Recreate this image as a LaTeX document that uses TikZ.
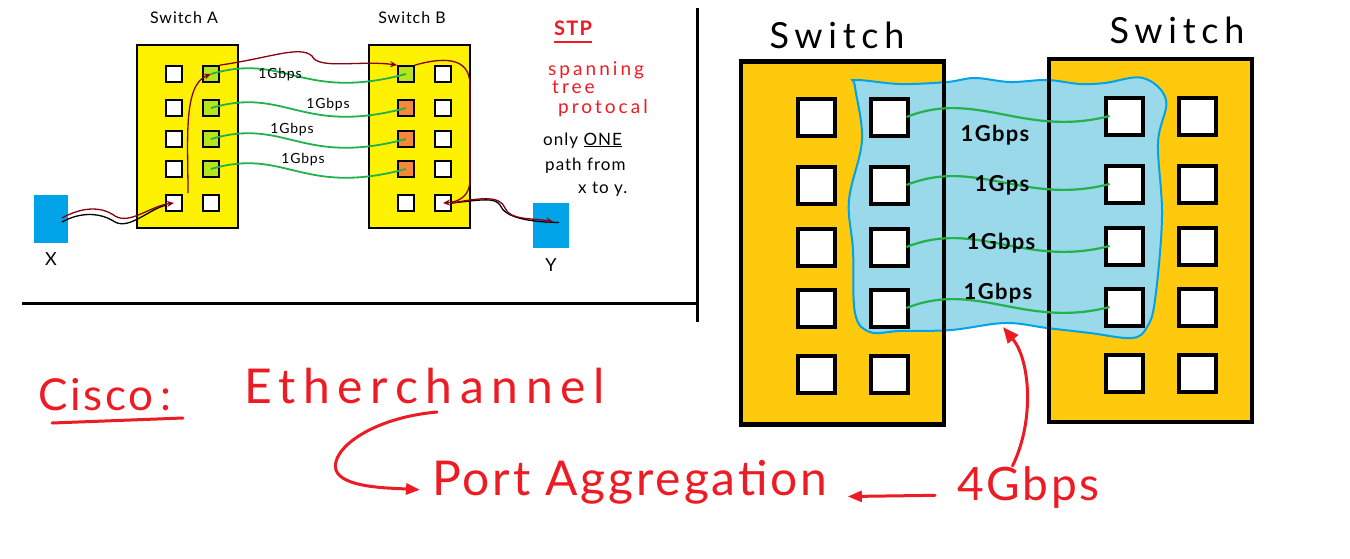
\documentclass[tikz,border=0pt]{standalone}
\usepackage{fontspec}
\setmainfont{Lato}
\newfontfamily\hand[LetterSpace=6]{Lato}
\newfontfamily\widehand[LetterSpace=16]{Lato}
\usetikzlibrary{arrows.meta,positioning}
\definecolor{swyellow}{HTML}{FFF200}
\definecolor{swgold}{HTML}{FFC90E}
\definecolor{portgreen}{HTML}{B5E61D}
\definecolor{portorange}{HTML}{F7883A}
\definecolor{hostblue}{HTML}{00A2E8}
\definecolor{cloudfill}{HTML}{99D9EA}
\definecolor{linkgreen}{HTML}{22B14C}
\definecolor{penred}{HTML}{ED1C24}
\definecolor{darkred}{HTML}{880015}
\newcommand{\fsz}[1]{\fontsize{#1}{#1}\selectfont}

\begin{document}
\begin{tikzpicture}[x=1pt,y=-1pt,
  smallsw/.style={draw,line width=2pt,fill=swyellow,minimum width=101pt,minimum height=183pt,inner sep=0pt},
  bigsw/.style={fill=swgold,minimum width=203pt,minimum height=363pt,inner sep=0pt},
  sport/.style={draw,line width=1.8pt,fill=white,minimum size=16pt,inner sep=0pt},
  bport/.style={draw,line width=4pt,fill=white,minimum size=37pt,inner sep=0pt},
  host/.style={fill=hostblue,inner sep=0pt},
  lnk/.style={linkgreen,line width=1.8pt},
  blnk/.style={linkgreen,line width=2.2pt},
  trail/.style={darkred,line width=1.3pt,-{Stealth[length=7pt,width=6pt]}},
  pen/.style={penred,line width=3pt,line cap=round},
  txt/.style={inner sep=0pt,font=\hand}]
\fill[white] (0,0) rectangle (1350,558);
\useasboundingbox (0,0) rectangle (1350,558);

\node[smallsw] (swA) at (187,136.5) {};
\node[smallsw] (swB) at (419.5,136.5) {};
\node[txt,font=\hand\fsz{16}] (labA) at (184,18) {Switch A};
\node[txt,font=\hand\fsz{16}] (labB) at (412,18) {Switch B};
\foreach \r/\y/\ca/\cb in {1/74/portgreen/portgreen,2/108/portgreen/portorange,3/139/portgreen/portorange,4/169/portgreen/portorange,5/203/white/white}{
  \node[sport] (a1\r) at (174,\y) {};
  \node[sport,fill=\ca] (a2\r) at (211,\y) {};
  \node[sport,fill=\cb] (b1\r) at (406,\y) {};
  \node[sport] (b2\r) at (443,\y) {};
}
\node[host,minimum width=34pt,minimum height=48pt] (X) at (51,219) {};
\node[host,minimum width=36pt,minimum height=45pt] (Y) at (551,225.5) {};
\node[txt,font=\hand\fsz{18},below=9pt of X] (labX) {X};
\node[txt,font=\hand\fsz{18},below=10pt of Y] (labY) {Y};

\foreach \r in {1,...,4}
  \draw[lnk] (a2\r.center) .. controls +(75,-22) and +(-105,28) .. (b1\r.center);
\foreach \n/\x/\y in {1/280/75,2/328/105,3/292/130,4/303/160}
  \node[txt,font=\hand\fsz{14}] (g\n) at (\x,\y) {1Gbps};

\draw[black,line width=1.3pt] ([shift={(11,3)}]X.center) .. controls (80,212) and (100,212) .. (115,222) .. controls (130,230) and (150,208) .. ([shift={(-7,2)}]a15.center);
\draw[trail] ([shift={(11,-1)}]X.center) .. controls (80,208) and (100,205) .. (115,216) .. controls (130,225) and (150,206) .. (a15.center);
\draw[trail] ([shift={(14,-10)}]a15.center) .. controls (188,140) and (183,85) .. (a21.center);
\draw[trail] (a21.north east) .. controls (270,58) and (300,45) .. (312,56) .. controls (318,70) and (360,60) .. (b11.north west);
\draw[trail] (b11.north east) .. controls (440,58) and (470,55) .. (470,85) -- (470,180) .. controls (470,195) and (460,202) .. (b25.center);
\draw[black,line width=1.3pt] (b25.east) .. controls (480,200) and (495,197) .. (500,205) .. controls (505,218) and (530,222) .. ([shift={(8,-3)}]Y.center);
\draw[trail] (b25.east) .. controls (480,198) and (500,195) .. (505,208) .. controls (510,220) and (530,218) .. ([shift={(2,-4)}]Y.center);

\draw[line width=3pt] (697,8) -- (697,322);
\draw[line width=3pt] (22,303) -- (697,303);

\node[txt,font=\hand\bfseries\fsz{20},text=penred] (stp) at (573,28) {STP};
\draw[penred,line width=2pt] ([yshift=-6pt]stp.south west) -- ([yshift=-6pt]stp.south east);
\node[txt,anchor=base west,font=\widehand\fsz{19},text=penred] (span) at (548,75) {spanning};
\node[txt,anchor=base west,font=\widehand\fsz{19},text=penred] (tree) at (552,93) {tree};
\node[txt,anchor=base west,font=\widehand\fsz{19},text=penred] (proto) at (558,113) {protocal};
\node[txt,anchor=base west,font=\hand\fsz{17}] (only) at (543,145) {only \underline{ONE}};
\node[txt,anchor=base west,font=\hand\fsz{17}] (path) at (545,170) {path from};
\node[txt,anchor=base west,font=\hand\fsz{17}] (xy) at (578,193) {x to y.};

\node[bigsw] (swL) at (842.5,243) {};
\node[bigsw] (swR) at (1150.5,240.5) {};
\filldraw[fill=cloudfill,draw=hostblue,line width=2pt] plot[smooth cycle,tension=0.6] coordinates {(856,80) (900,84) (947,82) (975,78) (1010,82) (1047,80) (1080,84) (1105,83) (1143,78) (1166,100) (1158,143) (1162,217) (1155,300) (1147,327) (1132,338) (1090,333) (1047,328) (1005,323) (951,330) (900,331) (870,332) (855,313) (853,250) (849,200) (862,140) (855,87)};
\coordinate (cb) at (1003,327);
\draw[line width=4.5pt] (swL.north west) rectangle (swL.south east);
\draw[line width=4.5pt] (swR.north west) rectangle (swR.south east);
\node[txt,font=\widehand\fsz{36}] (labL) at (837,35) {Switch};
\node[txt,font=\widehand\fsz{36}] (labR) at (1177,30) {Switch};
\foreach \r/\yl/\yr in {1/117/116,2/185/184,3/247/246,4/308/307,5/374/373}{
  \node[bport] (l1\r) at (816,\yl) {};
  \node[bport] (l2\r) at (889,\yl) {};
  \node[bport] (r1\r) at (1124,\yr) {};
  \node[bport] (r2\r) at (1197,\yr) {};
}
\foreach \r in {1,...,4}
  \draw[blnk] ([xshift=-3pt]l2\r.east) .. controls +(70,-28) and +(-85,22) .. ([xshift=6pt]r1\r.west);
\foreach \n/\x/\y/\t in {1/995/135/1Gbps,2/1002/185/1Gps,3/1001/243/1Gbps,4/998/293/1Gbps}
  \node[txt,font=\hand\bfseries\fsz{22}] (rg\n) at (\x,\y) {\t};

\node[txt,anchor=base west,font=\hand\fsz{44},text=penred] (cisco) at (38,410) {Cisco\,:};
\draw[pen] ([shift={(14,13)}]cisco.base west) -- ([shift={(145,8)}]cisco.base west);
\node[txt,anchor=base west,font=\widehand\fsz{48},text=penred] (ether) at (244,403) {Etherchannel};
\node[txt,anchor=base west,font=\hand\fsz{48},text=penred] (port) at (432,495) {Port Aggregation};
\node[txt,anchor=base west,font=\hand\fsz{46},text=penred] (four) at (957,500) {4Gbps};
\draw[pen,-{Triangle[length=14pt,width=11pt]}] ([shift={(193,9)}]ether.base west) .. controls (370,418) and (330,450) .. (336,470) .. controls (342,488) and (390,488) .. ([shift={(-12,8)}]port.west);
\draw[pen,-{Triangle[length=14pt,width=11pt]},shorten <=22pt,shorten >=20pt] ([yshift=-8pt]four.west) -- ([yshift=-15pt]port.east);
\draw[pen,-{Triangle[length=16pt,width=13pt]}] ([xshift=-16pt]four.north) .. controls (1035,420) and (1030,360) .. (cb);
\end{tikzpicture}
\end{document}
